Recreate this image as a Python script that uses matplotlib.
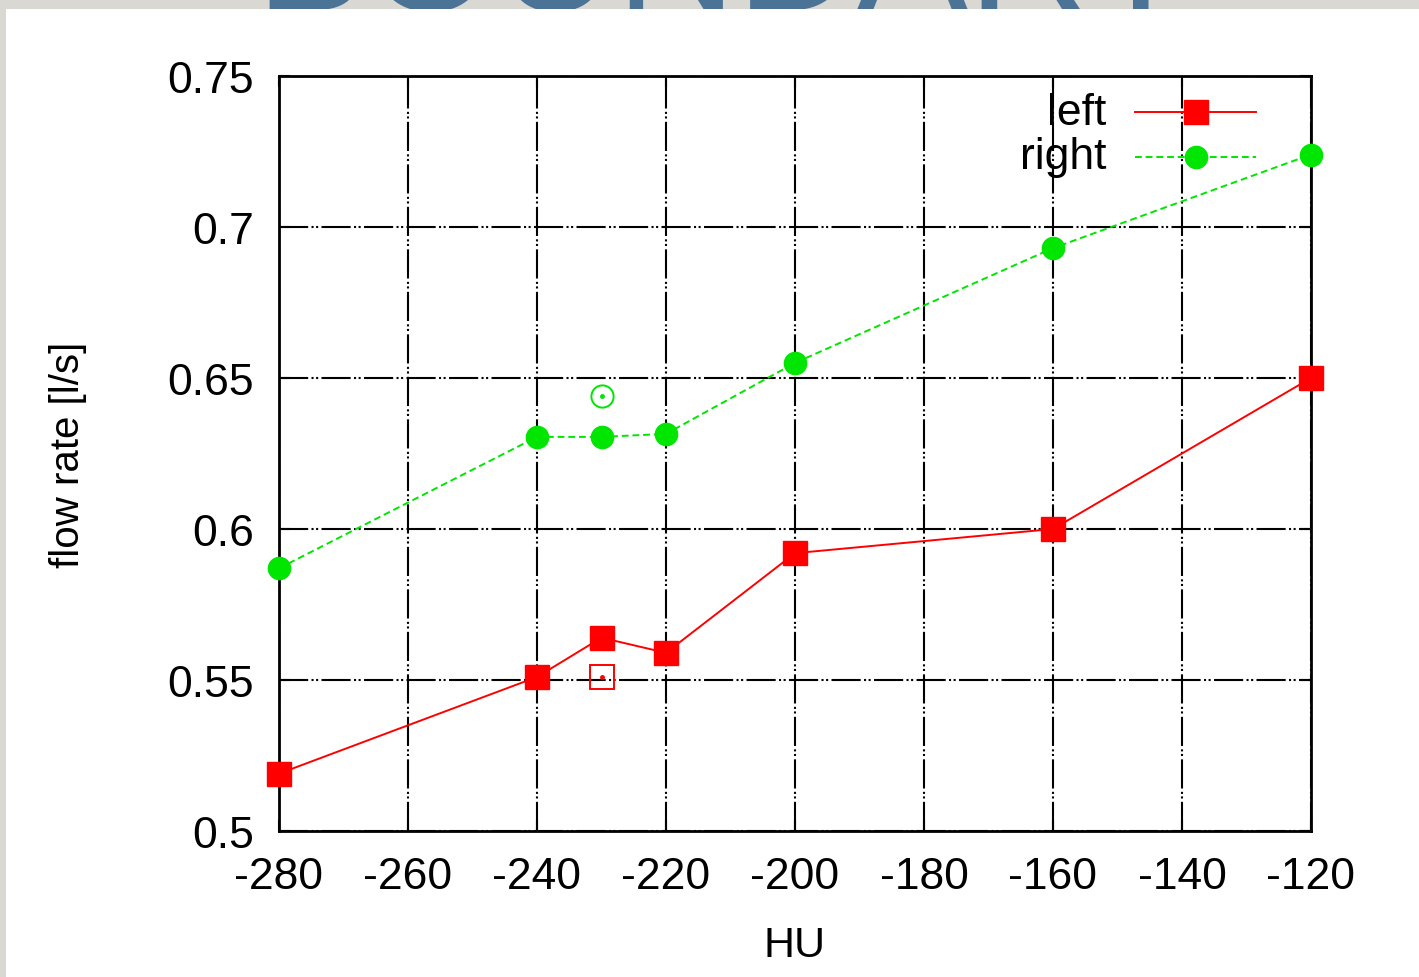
import numpy as np
import matplotlib.pyplot as plt
from matplotlib.patches import Rectangle
from matplotlib.lines import Line2D

plt.rcParams['font.family'] = ['Liberation Sans', 'DejaVu Sans']

## data
hu = [-280, -240, -230, -220, -200, -160, -120]
left_rate = [0.519, 0.551, 0.564, 0.559, 0.592, 0.600, 0.650]
right_rate = [0.587, 0.6305, 0.6305, 0.6315, 0.655, 0.693, 0.724]
# single open points at -230
extra_hu = [-230]
extra_left = [0.551]
extra_right = [0.644]

x_ticks = [-280, -260, -240, -220, -200, -180, -160, -140, -120]
y_ticks = [0.5, 0.55, 0.6, 0.65, 0.7, 0.75]
y_ticklabels = ['0.5', '0.55', '0.6', '0.65', '0.7', '0.75']

red = '#ff0000'
green = '#00e600'

fig = plt.figure(figsize=(14.19, 9.78), dpi=100, facecolor='#d9d8d2')

# slide title peeking above the white panel
fig.text(0.18, 1 - 45 / 978, 'BOUNDARY', color='#4a7396', fontsize=120,
         va='bottom', ha='left', zorder=0)
# white panel
fig.add_artist(Rectangle((6 / 1419, 0), 1, 1 - 10 / 978, transform=fig.transFigure,
                         facecolor='white', edgecolor='none', zorder=1))

ax = fig.add_axes([279 / 1419, 1 - 832 / 978, 1032 / 1419, 755 / 978], zorder=2)
ax.set_facecolor('white')

ax.plot(hu, left_rate, color=red, lw=1.4, marker='s', ms=17, mec=red,
        clip_on=False, zorder=4)
ax.plot(hu, right_rate, color=green, lw=1.4, ls=(0, (3.5, 2)), marker='o', ms=16,
        mec=green, clip_on=False, zorder=4)

ax.plot(extra_hu, extra_left, ls='none', marker='s', ms=17, mfc='none', mec=red,
        mew=1.4, zorder=4)
ax.plot(extra_hu, extra_left, ls='none', marker='o', ms=2.5, color=red, zorder=4)
ax.plot(extra_hu, extra_right, ls='none', marker='o', ms=16, mfc='none', mec=green,
        mew=1.4, zorder=4)
ax.plot(extra_hu, extra_right, ls='none', marker='o', ms=2.5, color=green, zorder=4)

ax.set_xlim(-280, -120)
ax.set_ylim(0.5, 0.75)
ax.set_xticks(x_ticks)
ax.set_xticklabels([str(v) for v in x_ticks])
ax.set_yticks(y_ticks)
ax.set_yticklabels(y_ticklabels)

# gnuplot style dash-dot-dot grid
ax.grid(True, color='black', lw=1.5, ls=(0, (14, 1.6, 1, 1.2, 1, 1.6)))
ax.set_axisbelow(True)
for s in ax.spines.values():
    s.set_linewidth(2)
    s.set_zorder(3)
ax.tick_params(direction='in', length=8, width=1.5, top=True, right=True,
               labelsize=32, pad=18)
ax.tick_params(axis='y', pad=18)

ax.set_xlabel('HU', fontsize=31, labelpad=20)
ax.set_ylabel('flow rate [l/s]', fontsize=29, labelpad=58)

# legend, gnuplot style (label right aligned, sample on the right)
ax.text(0.802, 0.952, 'left', transform=ax.transAxes, ha='right', va='center',
        fontsize=32, zorder=5)
ax.text(0.802, 0.893, 'right', transform=ax.transAxes, ha='right', va='center',
        fontsize=32, zorder=5)
ax.add_line(Line2D([0.8295, 0.9467], [0.952, 0.952], transform=ax.transAxes,
                   color=red, lw=1.4, zorder=5))
ax.add_line(Line2D([0.8886], [0.952], transform=ax.transAxes, color=red,
                   marker='s', ms=17, zorder=5))
ax.add_line(Line2D([0.8295, 0.9467], [0.893, 0.893], transform=ax.transAxes,
                   color=green, lw=1.4, ls=(0, (3.5, 2)), zorder=5))
ax.add_line(Line2D([0.8886], [0.893], transform=ax.transAxes, color=green,
                   marker='o', ms=16, zorder=5))

fig.savefig('out.png', dpi=100, facecolor=fig.get_facecolor())
